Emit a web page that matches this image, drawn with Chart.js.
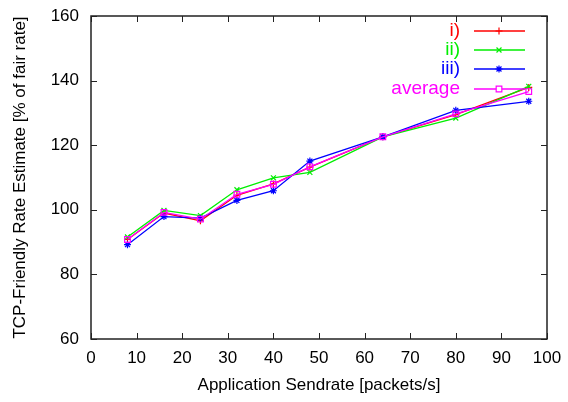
<!DOCTYPE html>
<html>
<head>
<meta charset="utf-8">
<script src="https://cdn.jsdelivr.net/npm/chart.js@4/dist/chart.umd.min.js"></script>
<style>
  html, body { margin: 0; padding: 0; background: #fff; }
  #wrap { width: 568px; height: 402px; }
</style>
</head>
<body>
<div id="wrap"><canvas id="chart" width="568" height="402"></canvas></div>
<script>
// x waarden (packets/s) en de geschatte rates per run
const sendrates = [8, 16, 24, 32, 40, 48, 64, 80, 96];
const run1 = [90.8, 99.0, 96.6, 104.5, 108.0, 113.2, 122.6, 129.5, 137.9];
const run2 = [91.6, 99.8, 98.2, 106.2, 109.9, 111.6, 122.6, 128.4, 138.2];
const run3 = [89.2, 97.9, 97.4, 102.9, 105.9, 115.1, 122.6, 130.8, 133.6];
const average = [90.8, 99.2, 97.1, 104.8, 107.9, 113.3, 122.6, 129.7, 136.6];

const labels = ['i)', 'ii)', 'iii)', 'average'];
const colors = ['#ff0000', '#00ee00', '#0000ff', '#ff00ff'];
const styles = ['cross', 'crossRot', 'star', 'rect'];
const radii = [3.5, 3.5, 3.5, 4];

const FONT = 'Liberation Sans, Arial, sans-serif';

function toPoints(ys) {
    return sendrates.map((x, i) => ({ x: x, y: ys[i] }));
}

const allSeries = [run1, run2, run3, average];
const datasets = allSeries.map((ys, i) => ({
    label: labels[i],
    data: toPoints(ys),
    borderColor: colors[i],
    backgroundColor: 'rgba(0,0,0,0)',
    borderWidth: 1.3,
    pointStyle: styles[i],
    pointRadius: radii[i],
    pointBorderColor: colors[i],
    pointBackgroundColor: 'rgba(255,255,255,0)',
    pointBorderWidth: 1.2,
    tension: 0,
    fill: false,
    order: 4 - i
}));

// kader, tickmarks naar binnen en gnuplot-achtige legenda
const framePlugin = {
    id: 'frame',
    afterDraw(chart) {
        const ctx = chart.ctx;
        const a = chart.chartArea;
        const xs = chart.scales.x;
        const ys = chart.scales.y;
        ctx.save();
        ctx.strokeStyle = '#222';
        ctx.lineWidth = 1.5;
        ctx.strokeRect(a.left, a.top, a.right - a.left, a.bottom - a.top);
        ctx.lineWidth = 1;
        ctx.beginPath();
        xs.ticks.forEach(t => {
            const px = Math.round(xs.getPixelForValue(t.value)) + 0.5;
            ctx.moveTo(px, a.bottom); ctx.lineTo(px, a.bottom - 6);
            ctx.moveTo(px, a.top); ctx.lineTo(px, a.top + 6);
        });
        ys.ticks.forEach(t => {
            const py = Math.round(ys.getPixelForValue(t.value)) + 0.5;
            ctx.moveTo(a.left, py); ctx.lineTo(a.left + 6, py);
            ctx.moveTo(a.right, py); ctx.lineTo(a.right - 6, py);
        });
        ctx.stroke();

        // legenda
        const rows = [31, 50, 69, 89];
        ctx.font = '19px ' + FONT;
        ctx.textAlign = 'right';
        ctx.textBaseline = 'middle';
        labels.forEach((lab, i) => {
            const y = rows[i];
            ctx.fillStyle = colors[i];
            ctx.fillText(lab, 460, y);
            ctx.strokeStyle = colors[i];
            ctx.lineWidth = 1.3;
            ctx.beginPath();
            ctx.moveTo(474, y); ctx.lineTo(525, y);
            ctx.stroke();
            ctx.fillStyle = '#fff';
            ctx.lineWidth = 1.2;
            Chart.helpers.drawPoint(ctx, {
                pointStyle: styles[i],
                radius: radii[i],
                rotation: 0,
                borderWidth: 1.2
            }, 499, y);
        });
        ctx.restore();
    }
};

new Chart(document.getElementById('chart'), {
    type: 'line',
    data: { datasets: datasets },
    options: {
        responsive: false,
        animation: false,
        layout: { padding: { top: 16, right: 21, left: 0, bottom: 0 } },
        plugins: { legend: { display: false }, tooltip: { enabled: false } },
        scales: {
            x: {
                type: 'linear',
                min: 0,
                max: 100,
                afterFit: s => { s.height = 63; s.paddingLeft = 0; s.paddingRight = 0; },
                ticks: { stepSize: 10, color: '#000', padding: 9, maxRotation: 0, font: { size: 17, family: FONT } },
                grid: { display: false, drawTicks: false },
                border: { display: false },
                title: {
                    display: true,
                    text: 'Application Sendrate [packets/s]',
                    color: '#000',
                    font: { size: 17, family: FONT },
                    padding: { top: 0, bottom: 6 }
                }
            },
            y: {
                min: 60,
                max: 160,
                afterFit: s => { s.width = 91; s.paddingTop = 0; s.paddingBottom = 0; },
                ticks: { stepSize: 20, color: '#000', padding: 12, font: { size: 17, family: FONT } },
                grid: { display: false, drawTicks: false },
                border: { display: false },
                title: {
                    display: true,
                    text: 'TCP-Friendly Rate Estimate [% of fair rate]',
                    color: '#000',
                    font: { size: 17, family: FONT },
                    padding: { top: 10, bottom: 8 }
                }
            }
        }
    },
    plugins: [framePlugin]
});
</script>
</body>
</html>
